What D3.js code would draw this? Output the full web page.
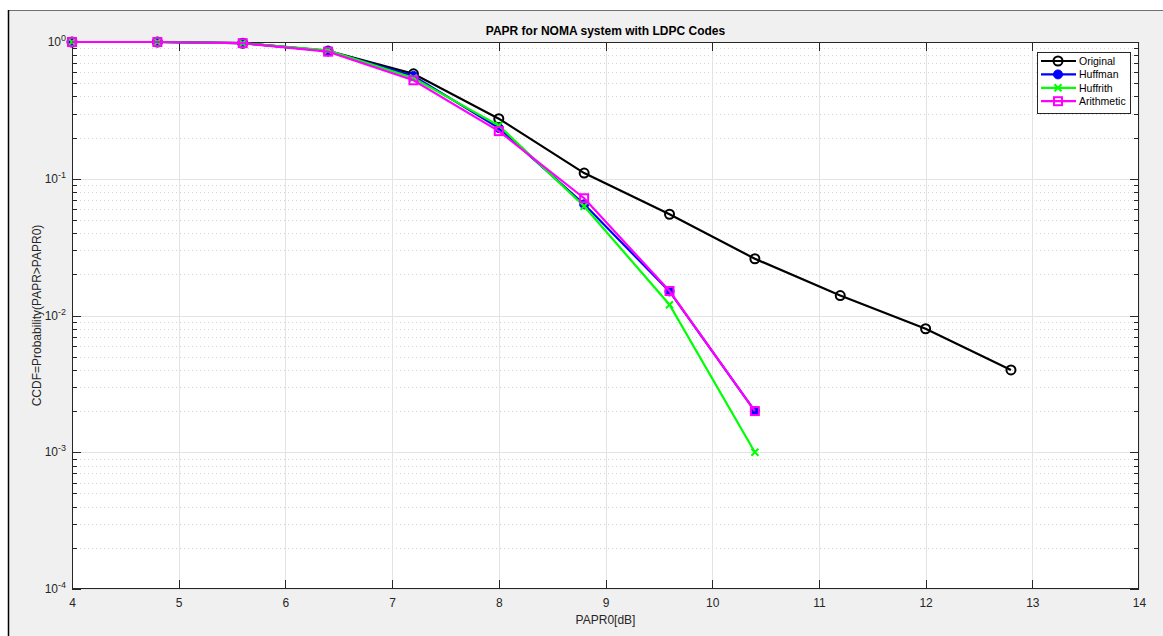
<!DOCTYPE html>
<html><head><meta charset="utf-8">
<script src="https://cdn.jsdelivr.net/npm/d3@7"></script>
<style>
body{margin:0;background:#fff;}
text{font-family:"Liberation Sans",Arial,Helvetica,sans-serif;}
</style></head>
<body><svg id="c" width="1163" height="636"></svg>
<script>
const xValues = [4, 4.8, 5.6, 6.4, 7.2, 8, 8.8, 9.6, 10.4, 11.2, 12, 12.8];
const original   = [1, 1, 0.98, 0.86, 0.585, 0.275, 0.11, 0.055, 0.026, 0.014, 0.008, 0.004];
const huffman    = [1, 1, 0.98, 0.86, 0.565, 0.235, 0.065, 0.015, 0.002];
const huffrith   = [1, 1, 0.98, 0.87, 0.545, 0.245, 0.063, 0.012, 0.001];
const arithmetic = [1, 1, 0.98, 0.85, 0.525, 0.223, 0.072, 0.0151, 0.002];
const seriesNames = ["Original", "Huffman", "Huffrith", "Arithmetic"];
const seriesColors = ["#000000", "#0000ff", "#00ff00", "#ff00ff"];
const seriesMarkers = ["circle-open", "circle-filled", "x", "square"];
const xTicks = [4,5,6,7,8,9,10,11,12,13,14];
const yExponents = [0,-1,-2,-3,-4];
const titleText = "PAPR for NOMA system with LDPC Codes";
const xLabel = "PAPR0[dB]";
const yLabel = "CCDF=Probability(PAPR>PAPR0)";

const svg = d3.select("#c");
const L=72, R=1139, T=42, B=589;
// figure background
svg.append("rect").attr("x",8).attr("y",10).attr("width",1163-8).attr("height",636-10).attr("fill","#f0f0f0");
svg.append("line").attr("x1",8).attr("x2",1163).attr("y1",10.5).attr("y2",10.5).attr("stroke","#707070");
svg.append("line").attr("x1",8.5).attr("x2",8.5).attr("y1",10).attr("y2",636).attr("stroke","#000").attr("stroke-width",1.5);
svg.append("rect").attr("x",L).attr("y",T).attr("width",R-L).attr("height",B-T).attr("fill","#fff");

const x = d3.scaleLinear().domain([4,14]).range([L,R]);
const y = d3.scaleLog().domain([1e-4,1]).range([B,T]);

// grids
const g = svg.append("g");
const minorVals=[];
for (let e=-4;e<0;e++) for (let m=2;m<=9;m++) minorVals.push(m*Math.pow(10,e));
g.selectAll(".mg").data(minorVals).enter().append("line")
  .attr("x1",L).attr("x2",R).attr("y1",d=>Math.round(y(d))+0.5).attr("y2",d=>Math.round(y(d))+0.5)
  .attr("stroke","#d4d4d4").attr("stroke-dasharray","1,3");
g.selectAll(".yg").data(yExponents.map(e=>Math.pow(10,e))).enter().append("line")
  .attr("x1",L).attr("x2",R).attr("y1",d=>Math.round(y(d))+0.5).attr("y2",d=>Math.round(y(d))+0.5)
  .attr("stroke","#e3e3e3");
g.selectAll(".xg").data(xTicks).enter().append("line")
  .attr("y1",T).attr("y2",B).attr("x1",d=>Math.round(x(d))+0.5).attr("x2",d=>Math.round(x(d))+0.5)
  .attr("stroke","#e3e3e3");

// axes
const axCol="#262626";
const xAx = svg.append("g").attr("transform",`translate(0,${B})`)
  .call(d3.axisBottom(x).tickValues(xTicks).tickSize(0).tickPadding(9).tickFormat(d3.format("d")));
xAx.select(".domain").remove();
xAx.selectAll("text").attr("font-size",12).attr("fill",axCol).attr("font-family","Liberation Sans, Arial");
// x tick marks bottom and top
svg.selectAll(".xtb").data(xTicks.slice(1,-1)).enter().append("line")
  .attr("x1",d=>Math.round(x(d))+0.5).attr("x2",d=>Math.round(x(d))+0.5).attr("y1",B).attr("y2",B-9).attr("stroke",axCol);
svg.selectAll(".xtt").data(xTicks.slice(1,-1)).enter().append("line")
  .attr("x1",d=>Math.round(x(d))+0.5).attr("x2",d=>Math.round(x(d))+0.5).attr("y1",T).attr("y2",T+9).attr("stroke",axCol);
// y ticks
const yAll = minorVals.concat(yExponents.map(e=>Math.pow(10,e)));
svg.selectAll(".ytl").data(yAll).enter().append("line")
  .attr("x1",L).attr("x2",d=>L+(minorVals.includes(d)?5:9))
  .attr("y1",d=>Math.round(y(d))+0.5).attr("y2",d=>Math.round(y(d))+0.5).attr("stroke",axCol);
svg.selectAll(".ytr").data(yAll).enter().append("line")
  .attr("x1",R).attr("x2",d=>R-(minorVals.includes(d)?5:9))
  .attr("y1",d=>Math.round(y(d))+0.5).attr("y2",d=>Math.round(y(d))+0.5).attr("stroke",axCol);
// y labels
const yl = svg.selectAll(".ylab").data(yExponents).enter().append("text")
  .attr("x",L-6).attr("y",d=>y(Math.pow(10,d))+4).attr("text-anchor","end")
  .attr("font-size",12).attr("fill",axCol);
yl.append("tspan").text("10");
yl.append("tspan").attr("dy",-5).attr("font-size",9).text(d=>d);
// box
svg.append("rect").attr("x",L+0.5).attr("y",T+0.5).attr("width",R-L-1).attr("height",B-T-1)
  .attr("fill","none").attr("stroke",axCol);

// data series
const allSeries=[original,huffman,huffrith,arithmetic];
const line = d3.line().x(d=>x(d[0])).y(d=>y(d[1]));
const plot = svg.append("g");
function drawMarker(sel, type, color, px, py){
  if(type==="circle-open") sel.append("circle").attr("cx",px).attr("cy",py).attr("r",4.5).attr("fill","none").attr("stroke",color).attr("stroke-width",2);
  else if(type==="circle-filled") sel.append("circle").attr("cx",px).attr("cy",py).attr("r",4.5).attr("fill",color).attr("stroke",color).attr("stroke-width",1);
  else if(type==="x"){ const s=3.5;
    sel.append("path").attr("d",`M${px-s},${py-s}L${px+s},${py+s}M${px-s},${py+s}L${px+s},${py-s}`).attr("stroke",color).attr("stroke-width",2);}
  else if(type==="square") sel.append("rect").attr("x",px-4).attr("y",py-4).attr("width",8).attr("height",8).attr("fill","none").attr("stroke",color).attr("stroke-width",2);
}
allSeries.forEach((vals,i)=>{
  const pts = vals.map((v,j)=>[xValues[j],v]);
  const sg = plot.append("g");
  sg.append("path").attr("d",line(pts)).attr("fill","none").attr("stroke",seriesColors[i]).attr("stroke-width",2.2);
  pts.forEach(p=>drawMarker(sg,seriesMarkers[i],seriesColors[i],x(p[0]),y(p[1])));
});

// legend
const lg = svg.append("g");
lg.append("rect").attr("x",1037.5).attr("y",52.5).attr("width",93).attr("height",61).attr("fill","#fff").attr("stroke",axCol);
seriesNames.forEach((n,i)=>{
  const ly = 61 + i*13.4;
  lg.append("line").attr("x1",1041).attr("x2",1076).attr("y1",ly).attr("y2",ly).attr("stroke",seriesColors[i]).attr("stroke-width",2.2);
  drawMarker(lg,seriesMarkers[i],seriesColors[i],1058,ly);
  lg.append("text").attr("x",1079).attr("y",ly+3.8).attr("font-size",10.5).attr("fill","#000").text(n);
});

// titles
svg.append("text").attr("x",(L+R)/2).attr("y",35).attr("text-anchor","middle").attr("font-size",12).attr("font-weight","bold").attr("fill","#000").text(titleText);
svg.append("text").attr("x",(L+R)/2).attr("y",624).attr("text-anchor","middle").attr("font-size",12).attr("fill",axCol).text(xLabel);
svg.append("text").attr("transform",`translate(41,${(T+B)/2}) rotate(-90)`).attr("text-anchor","middle").attr("font-size",12).attr("fill",axCol).text(yLabel);
</script></body></html>
